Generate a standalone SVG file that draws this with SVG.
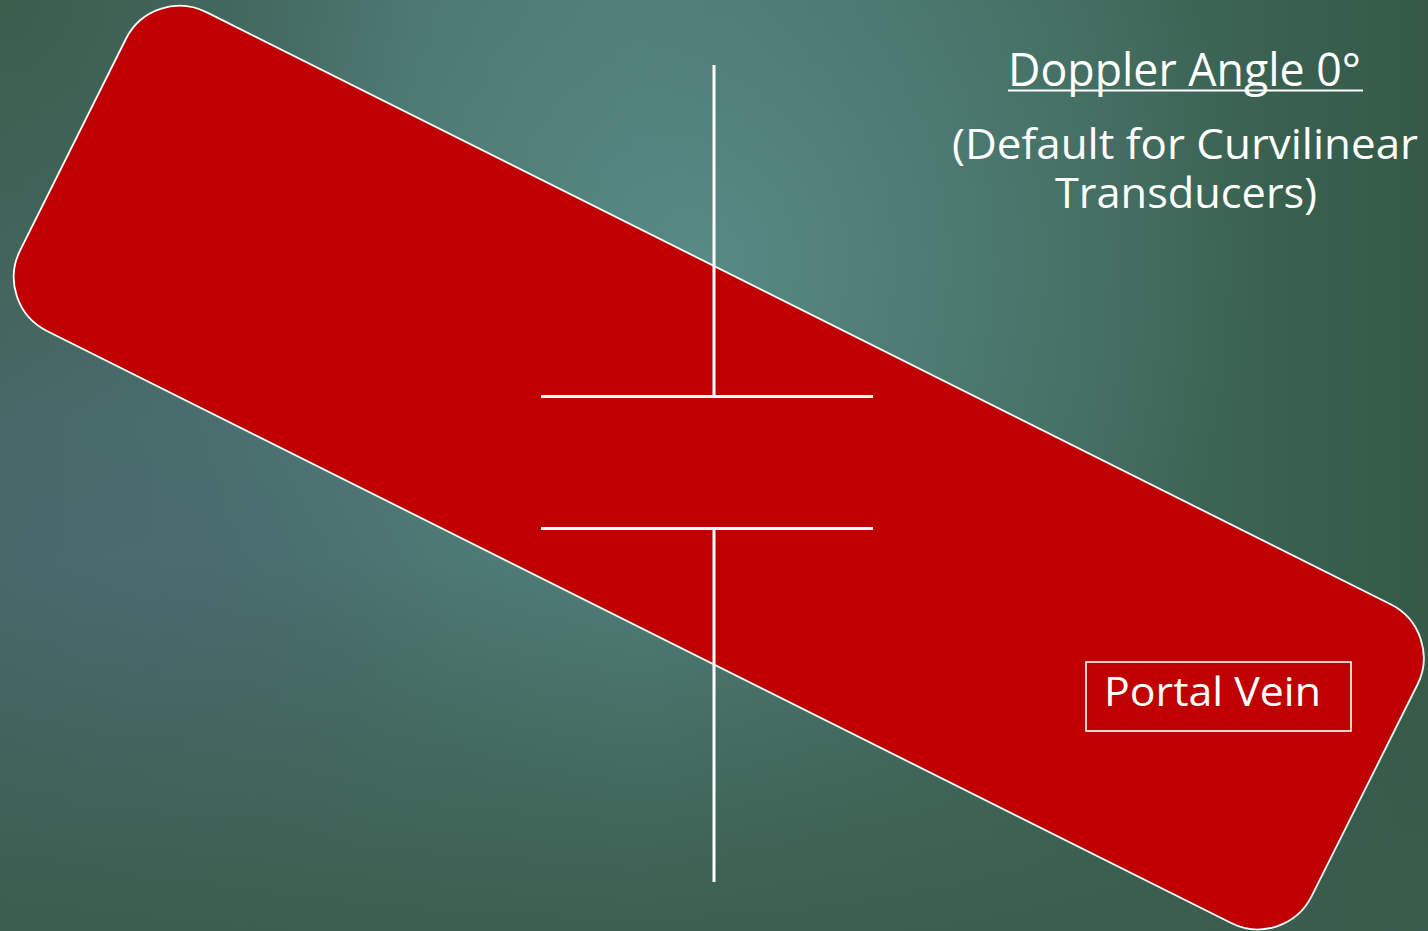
<svg xmlns="http://www.w3.org/2000/svg" width="1428" height="931" viewBox="0 0 1428 931">
  <defs>
    <linearGradient id="bgBase" x1="0" y1="0" x2="1" y2="0">
      <stop offset="0" stop-color="#466866"/>
      <stop offset="0.45" stop-color="#4d7a74"/>
      <stop offset="0.75" stop-color="#416a5c"/>
      <stop offset="1" stop-color="#345a47"/>
    </linearGradient>
    <radialGradient id="bgLight" gradientUnits="userSpaceOnUse" cx="700" cy="260" r="560">
      <stop offset="0" stop-color="#5a8b86" stop-opacity="0.9"/>
      <stop offset="0.6" stop-color="#548580" stop-opacity="0.35"/>
      <stop offset="1" stop-color="#548580" stop-opacity="0"/>
    </radialGradient>
    <radialGradient id="bgTL" gradientUnits="userSpaceOnUse" cx="0" cy="0" r="420">
      <stop offset="0" stop-color="#3a5e4c" stop-opacity="1"/>
      <stop offset="1" stop-color="#3a5e4c" stop-opacity="0"/>
    </radialGradient>
    <radialGradient id="bgBlue" gradientUnits="userSpaceOnUse" cx="150" cy="620" r="300">
      <stop offset="0" stop-color="#4b6a72" stop-opacity="0.8"/>
      <stop offset="1" stop-color="#4b6a72" stop-opacity="0"/>
    </radialGradient>
    <linearGradient id="bgBottom" x1="0" y1="0" x2="0" y2="1">
      <stop offset="0.6" stop-color="#3a5c4c" stop-opacity="0"/>
      <stop offset="1" stop-color="#3a5c4c" stop-opacity="0.9"/>
    </linearGradient>
    <style>
      .white-line { stroke: #ffffff; stroke-width: 3; fill: none; }
      .label { fill: #ffffff; font-family: "Open Sans", "Noto Sans", "DejaVu Sans", sans-serif; }
    </style>
  </defs>

  <rect x="0" y="0" width="1428" height="931" fill="url(#bgBase)"/>
  <rect x="0" y="0" width="1428" height="931" fill="url(#bgLight)"/>
  <rect x="0" y="0" width="1428" height="931" fill="url(#bgTL)"/>
  <rect x="0" y="0" width="1428" height="931" fill="url(#bgBlue)"/>
  <rect x="0" y="0" width="1428" height="931" fill="url(#bgBottom)"/>

  <g id="portal-vein-vessel">
    <rect x="130" y="-81.4" width="1444" height="356.4" rx="60" ry="60" transform="rotate(26.565)" fill="#c00000" stroke="#ffffff" stroke-width="1.8"/>
  </g>

  <g id="connectors">
    <line class="white-line" x1="714" y1="65" x2="714" y2="396"/>
    <line class="white-line" x1="541" y1="396.5" x2="873" y2="396.5"/>
    <line class="white-line" x1="541" y1="528.5" x2="873" y2="528.5"/>
    <line class="white-line" x1="714" y1="529" x2="714" y2="882"/>
  </g>

  <g id="title">
    <text class="label" x="1008" y="86" font-size="46" textLength="353" lengthAdjust="spacingAndGlyphs">Doppler Angle 0°</text>
    <line x1="1008" y1="90.5" x2="1363" y2="90.5" stroke="#ffffff" stroke-width="2"/>
    <text class="label" x="952" y="158.5" font-size="42" textLength="466" lengthAdjust="spacingAndGlyphs">(Default for Curvilinear</text>
    <text class="label" x="1055" y="207.5" font-size="42" textLength="262" lengthAdjust="spacingAndGlyphs">Transducers)</text>
  </g>

  <g id="portal-vein-label">
    <rect x="1086" y="662" width="265" height="69" fill="none" stroke="#ffffff" stroke-width="1.6"/>
    <text class="label" x="1104" y="706" font-size="40" textLength="217" lengthAdjust="spacingAndGlyphs">Portal Vein</text>
  </g>
</svg>
